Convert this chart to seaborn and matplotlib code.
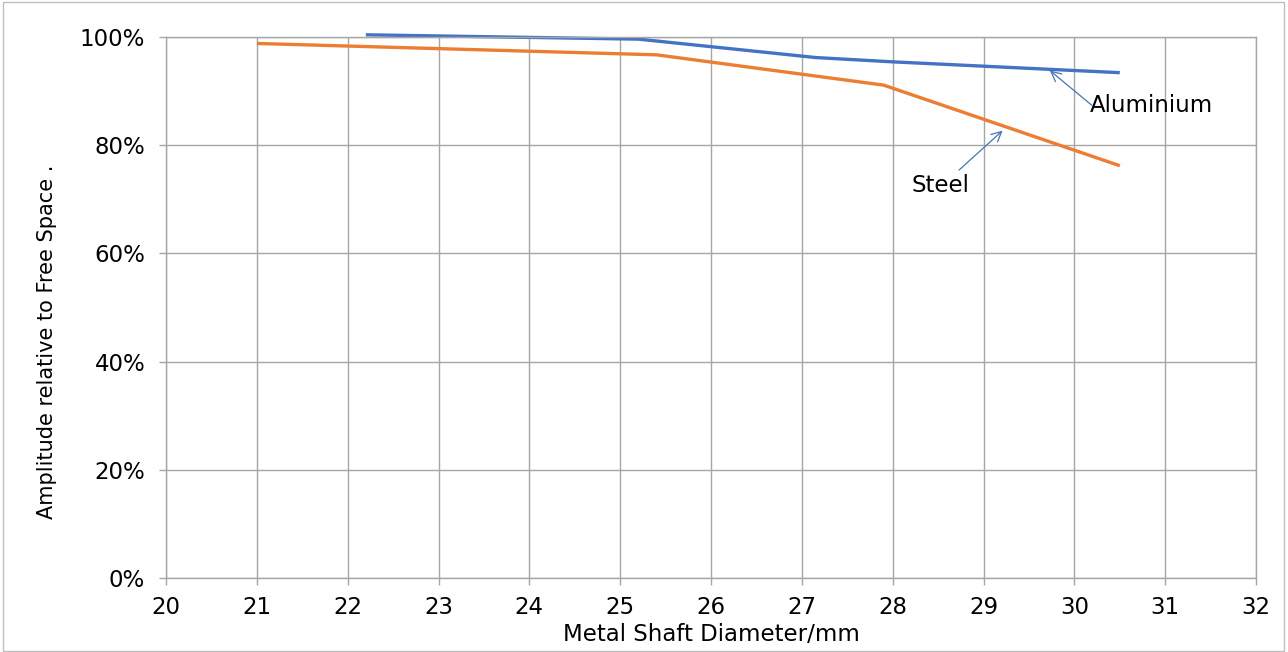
import pandas as pd
import seaborn as sns
import matplotlib.pyplot as plt
from matplotlib.patches import Rectangle
from matplotlib.ticker import PercentFormatter

# values (diameter in mm, amplitude as fraction)
alu_diameter = [22.2, 25.2, 27.15, 28.0, 30.5]
alu_amplitude = [1.004, 0.996, 0.962, 0.954, 0.934]

steel_diameter = [21.0, 25.4, 27.9, 30.5]
steel_amplitude = [0.988, 0.967, 0.911, 0.762]

x_ticks = list(range(20, 33))
y_ticks = [0, 0.2, 0.4, 0.6, 0.8, 1.0]

df = pd.concat([
    pd.DataFrame({"Diameter": alu_diameter, "Amplitude": alu_amplitude, "Metal": "Aluminium"}),
    pd.DataFrame({"Diameter": steel_diameter, "Amplitude": steel_amplitude, "Metal": "Steel"}),
])

sns.set_style("whitegrid", {"xtick.bottom": True, "ytick.left": True})
plt.rcParams['font.family'] = ['DejaVu Sans']

fig = plt.figure(figsize=(12.88, 6.52), dpi=100)
ax = fig.add_axes([0.1289, 0.1135, 0.9752 - 0.1289, 0.9433 - 0.1135])

sns.lineplot(data=df, x="Diameter", y="Amplitude", hue="Metal",
             palette={"Aluminium": "#4472C4", "Steel": "#ED7D31"},
             linewidth=2.4, legend=False, sort=False, ax=ax)
for line in ax.lines:
    line.set_clip_on(False)
    line.set_solid_capstyle("butt")

ax.set_xlim(20, 32)
ax.set_ylim(0, 1.0)
ax.set_xticks(x_ticks)
ax.set_yticks(y_ticks)
ax.yaxis.set_major_formatter(PercentFormatter(1.0, decimals=0))
ax.grid(True, color="#a6a6a6", linewidth=1.0)
for s in ax.spines.values():
    s.set_color("#a6a6a6")
    s.set_linewidth(1.0)
ax.tick_params(axis="both", which="both", length=5, width=1.0, color="#a6a6a6",
               labelsize=16.5, labelcolor="black")
ax.tick_params(axis="y", pad=10)
ax.tick_params(axis="x", pad=8)
ax.set_xlabel("Metal Shaft Diameter/mm", fontsize=16.5, color="black", labelpad=3)
ax.set_ylabel("Amplitude relative to Free Space .", fontsize=15, color="black")
ax.yaxis.label.set_va("center")
ax.yaxis.set_label_coords(-0.109, 0.436)
ax.set_axisbelow(True)

# annotations
arrow = dict(arrowstyle="->", color="#4472C4", lw=0.9, shrinkA=0, shrinkB=0,
             mutation_scale=18)
ax.annotate("", xy=(29.73, 0.938), xytext=(30.19, 0.874), arrowprops=arrow)
ax.text(30.17, 0.874, "Aluminium", fontsize=16.5, va="center", ha="left", color="black")
ax.annotate("", xy=(29.21, 0.827), xytext=(28.73, 0.754), arrowprops=arrow)
ax.text(28.53, 0.725, "Steel", fontsize=16.5, va="center", ha="center", color="black")

fig.patches.append(Rectangle((0.002, 0.002), 0.995, 0.995, transform=fig.transFigure,
                             fill=False, edgecolor="#bfbfbf", linewidth=1.0))

plt.savefig("out.png", dpi=100)
plt.close()
